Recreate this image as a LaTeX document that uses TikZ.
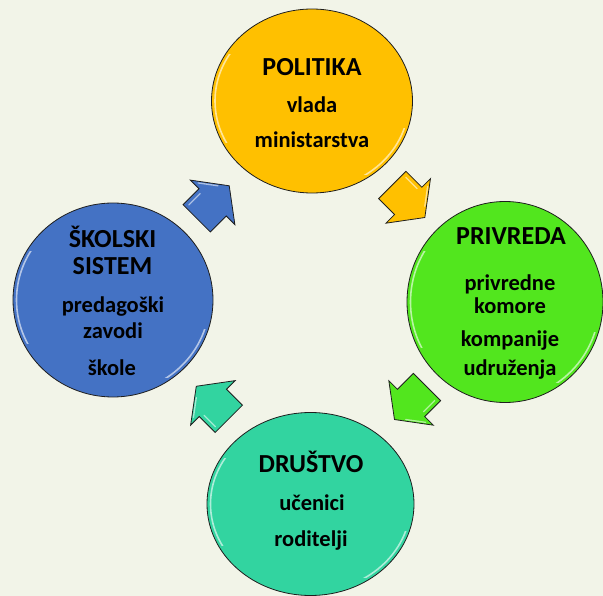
\documentclass[tikz,border=0pt]{standalone}
\usepackage{fontspec}
\setmainfont{Carlito}
\usetikzlibrary{shapes.geometric,calc}
\definecolor{bg}{RGB}{242,244,232}
\definecolor{cpol}{RGB}{255,192,0}
\definecolor{cpri}{RGB}{82,230,30}
\definecolor{cdru}{RGB}{50,212,160}
\definecolor{csko}{RGB}{68,114,196}
\definecolor{edgec}{RGB}{30,30,30}
\newcommand\glintring[3]{%
  \begin{scope}
    \clip ($(#1.center)+(-#2-2,-0.5*#3)$) rectangle ($(#1.center)+(-0.55*#2,0.45*#3)$);
    \draw[white, opacity=.6, line width=1.6pt] (#1.center) ellipse [x radius=#2-3.5, y radius=#3-3.5];
  \end{scope}
  \begin{scope}
    \clip ($(#1.center)+(0.5*#2,0.3*#3)$) rectangle ($(#1.center)+(#2+2,0.8*#3)$);
    \draw[white, opacity=.6, line width=1.6pt] (#1.center) ellipse [x radius=#2-3.5, y radius=#3-3.5];
  \end{scope}}
\begin{document}
\begin{tikzpicture}[x=1pt,y=-1pt,
  ringnode/.style={ellipse, draw=edgec, line width=0.8pt, inner sep=0pt},
  ttltext/.style={font=\bfseries\fontsize{26}{30}\selectfont, anchor=base, inner sep=0pt, text=black},
  subtext/.style={font=\bfseries\fontsize{22.5}{26}\selectfont, anchor=base, inner sep=0pt, text=black},
  barrow/.pic={
    \path[pic actions, line width=0.8pt, line join=miter]
      (0,-19.3) -- (22.5,-19.3) -- (22.5,-31.5) -- (46,0) -- (22.5,31.5) -- (22.5,19.3) -- (0,19.3) -- cycle;
    \draw[white, opacity=.55, line width=1.3pt, line cap=round] (4,-15) -- (20,-15);
    \draw[white, opacity=.55, line width=1.3pt, line cap=round] (26,-24) -- (38,-8);
  }]
\fill[bg] (0,0) rectangle (603,596);
\useasboundingbox (0,0) rectangle (603,596);

% circles
\node[ringnode, fill=cpol, minimum width=201pt, minimum height=184pt] (pol) at (312,101) {};
\node[ringnode, fill=cpri, minimum width=196pt, minimum height=201pt] (pri) at (505,302) {};
\node[ringnode, fill=cdru, minimum width=207pt, minimum height=183pt] (dru) at (310.5,504) {};
\node[ringnode, fill=csko, minimum width=200pt, minimum height=194pt] (sko) at (113,300) {};

\glintring{pol}{100.5}{92}
\glintring{pri}{98}{100.5}
\glintring{dru}{103.5}{91.5}
\glintring{sko}{100}{97}

% block arrows
\pic[fill=cpol, draw=edgec, rotate=-45] at (392.3,185) {barrow};
\pic[fill=cpri, draw=edgec, rotate=-135] at (427,387) {barrow};
\pic[fill=cdru, draw=edgec, rotate=135] at (228.8,418.8) {barrow};
\pic[fill=csko, draw=edgec, rotate=45] at (196.7,218.3) {barrow};

% texts
\node[ttltext] (polA) at (312,76) {POLITIKA};
\node[subtext] (polB) at (312,113) {vlada};
\node[subtext] (polC) at (312,148) {ministarstva};

\node[ttltext] (priA) at (511,245) {PRIVREDA};
\node[subtext] (priB) at (510,290.5) {privredne};
\node[subtext] (priC) at (510,313.5) {komore};
\node[subtext] (priD) at (510,346) {kompanije};
\node[subtext] (priE) at (510,376) {udruženja};

\node[ttltext] (druA) at (311,472) {DRUŠTVO};
\node[subtext] (druB) at (312,510) {učenici};
\node[subtext] (druC) at (311,546) {roditelji};

\node[ttltext] (skoA) at (112.5,248) {ŠKOLSKI};
\node[ttltext] (skoB) at (112.5,275) {SISTEM};
\node[subtext] (skoC) at (113,313) {predagoški};
\node[subtext] (skoD) at (113,339) {zavodi};
\node[subtext] (skoE) at (112,375) {škole};
\end{tikzpicture}
\end{document}
